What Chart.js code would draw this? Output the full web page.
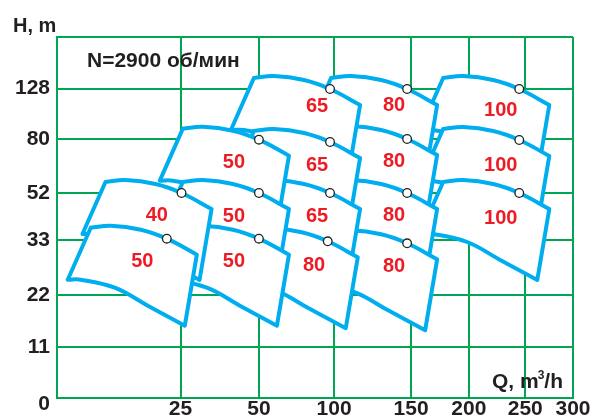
<!DOCTYPE html>
<html>
<head>
<meta charset="utf-8">
<script src="https://cdn.jsdelivr.net/npm/chart.js@4.4.1/dist/chart.umd.min.js"></script>
<style>
  html, body { margin: 0; padding: 0; background: #fff; }
  canvas { display: block; }
</style>
</head>
<body>
<canvas id="myChart" width="602" height="418"></canvas>
<script>
// valori delle tacche sugli assi (la scala non è uniforme)
var tacche_q = [0, 25, 50, 100, 150, 200, 250, 300];
var tacche_h = [0, 11, 22, 33, 52, 80, 128, 200];

// punti di lavoro nominali [Q, H]
var punti = [
    [22.22, 33.53], [50, 33.53], [95.8, 32.74], [147.4, 32.34],
    [25.32, 52], [50, 52], [97.33, 52], [147.4, 52], [244.67, 52],
    [50, 79.64], [97.33, 78.44], [147.4, 80], [244.67, 79.48],
    [97.33, 127.71], [147.4, 127.71], [244.67, 127.71]
];

// campi di lavoro delle pompe [Q, H], contorno: curva alta, lato destro, curva bassa
var campo_50_33a = [[6.83, 37.97], [10.88, 38.78], [16.96, 37.16], [22.22, 33.53], [30.2, 30.06], [26.37, 15.51], [18.37, 19.74], [11.69, 23.46], [4.8, 25.06], [2.17, 25.06]];
var campo_50_33b = [[25.73, 37.97], [32.12, 38.78], [41.7, 37.16], [50, 33.53], [70, 30.06], [62, 15.51], [43.93, 19.74], [33.4, 23.46], [23.44, 25.06], [20.81, 25.06]];
var campo_80_33a = [[47.67, 36.92], [58.47, 37.73], [78.47, 36.11], [95.8, 32.74], [115.39, 29.54], [107.6, 14.96], [83.13, 19.19], [61.13, 22.94], [44.48, 24.54], [40.33, 24.54]];
var campo_80_33b = [[98, 36.11], [111.04, 36.92], [130.52, 35.3], [147.4, 32.34], [172.53, 29.14], [162.13, 14.53], [135.06, 18.76], [113.64, 22.54], [91.33, 24.14], [82.67, 24.14]];

var campo_40_52 = [[9.81, 57.7], [13.86, 58.74], [19.93, 56.67], [25.32, 52], [34.9, 45.53], [31.07, 25], [21.35, 29], [14.67, 32.6], [7.78, 35.43], [5.15, 35.43]];
var campo_50_52 = [[25.73, 57.7], [32.12, 58.74], [41.7, 56.67], [50, 52], [70, 45.53], [62, 25], [43.93, 29], [33.4, 32.6], [23.44, 35.43], [20.81, 35.43]];
var campo_65_52 = [[48.4, 57.7], [60, 58.74], [80, 56.67], [97.33, 52], [116.88, 45.53], [109.09, 25], [84.67, 29], [62.67, 32.6], [45.21, 35.43], [41.06, 35.43]];
var campo_80_52 = [[98, 57.7], [111.04, 58.74], [130.52, 56.67], [147.4, 52], [172.53, 45.53], [162.13, 25], [135.06, 29], [113.64, 32.6], [91.33, 35.43], [82.67, 35.43]];
var campo_100_52 = [[177.73, 57.7], [195.06, 58.74], [221.58, 56.67], [244.67, 52], [275.16, 45.53], [262.58, 25], [227.8, 29], [198.53, 32.6], [169.06, 35.43], [157.8, 35.43]];

var campo_50_80 = [[25.73, 89.83], [32.12, 91.74], [41.7, 87.92], [50, 79.64], [70, 71.34], [62, 38.38], [43.93, 46.46], [33.4, 54.23], [23.44, 58.38], [20.81, 58.38]];
var campo_65_80 = [[48.4, 87.63], [60, 89.54], [80, 85.73], [97.33, 78.44], [116.88, 70.15], [109.09, 37.45], [84.67, 45.53], [62.67, 53.04], [45.21, 57.19], [41.06, 57.19]];
var campo_80_80 = [[98, 90.5], [111.04, 92.41], [130.52, 88.59], [147.4, 80], [172.53, 71.7], [162.13, 38.66], [135.06, 46.74], [113.64, 54.59], [91.33, 58.74], [82.67, 58.74]];
var campo_100_80 = [[177.73, 89.54], [195.06, 91.45], [221.58, 87.63], [244.67, 79.48], [275.16, 71.19], [262.58, 38.26], [227.8, 46.34], [198.53, 54.07], [169.06, 58.22], [157.8, 58.22]];

var campo_65_128 = [[48.4, 142.9], [60, 145.69], [80, 140.12], [97.33, 127.71], [116.88, 112.45], [109.09, 60.81], [84.67, 71.19], [62.67, 80.95], [45.21, 88.59], [41.06, 88.59]];
var campo_80_128 = [[98, 142.9], [111.04, 145.69], [130.52, 140.12], [147.4, 127.71], [172.53, 112.45], [162.13, 60.81], [135.06, 71.19], [113.64, 80.95], [91.33, 88.59], [82.67, 88.59]];
var campo_100_128 = [[177.73, 142.9], [195.06, 145.69], [221.58, 140.12], [244.67, 127.71], [275.16, 112.45], [262.58, 60.81], [227.8, 71.19], [198.53, 80.95], [169.06, 88.59], [157.8, 88.59]];

// scritte rosse dentro i campi [testo, Q, H]
var etichette = [
    ['65', 88.67, 111.68], ['80', 138.96, 113.21], ['100', 228.24, 108.34],
    ['50', 42.02, 68.23], ['65', 88.67, 66.93], ['80', 138.96, 68.7], ['100', 228.24, 66.52],
    ['40', 20.2, 43.43], ['50', 42.02, 42.78], ['65', 88.67, 42.78], ['80', 138.96, 43.43], ['100', 228.24, 42.1],
    ['50', 17.26, 28.84], ['50', 42.02, 28.9], ['80', 86.67, 28.16], ['80', 138.96, 27.84]
];

// l'ordine conta: il primo della lista viene disegnato sopra gli altri
// (colonna più a sinistra sopra, nella stessa colonna il campo più basso sopra)
var campi = [
    campo_50_33a, campo_40_52,
    campo_50_33b, campo_50_52, campo_50_80,
    campo_80_33a,
    campo_65_52, campo_65_80, campo_65_128,
    campo_80_33b, campo_80_52, campo_80_80, campo_80_128,
    campo_100_52, campo_100_80, campo_100_128
];

// scala lineare a tratti: ogni tacca ha la sua posizione sull'asse
class ScalaSpezzata extends Chart.LinearScale {
    buildTicks() {
        return this.options.valori.map(function (v) { return { value: v }; });
    }
    getPixelForValue(value) {
        var v = this.options.valori, p = this.options.posizioni;
        var i = 0;
        while (i < v.length - 2 && value > v[i + 1]) i++;
        var f = p[i] + (value - v[i]) / (v[i + 1] - v[i]) * (p[i + 1] - p[i]);
        return this.getPixelForDecimal(f);
    }
    getValueForPixel(pixel) {
        var v = this.options.valori, p = this.options.posizioni;
        var f = this.getDecimalForPixel(pixel);
        var i = 0;
        while (i < p.length - 2 && f > p[i + 1]) i++;
        return v[i] + (f - p[i]) / (p[i + 1] - p[i]) * (v[i + 1] - v[i]);
    }
}
ScalaSpezzata.id = 'spezzata';
ScalaSpezzata.defaults = {};
Chart.register(ScalaSpezzata);

var FONT = '"Liberation Sans", Arial, sans-serif';
var VERDE = '#00a651';
var NERO = '#231f20';

// indici degli spigoli del contorno: vengono ripetuti così la curva
// resta morbida sui lati lunghi e lo spigolo rimane vivo
var spigoli = [0, 4, 5, 9];

function chiudi(campo) {
    var pts = [];
    for (var k = 0; k < campo.length; k++) {
        var p = { x: campo[k][0], y: campo[k][1] };
        pts.push(p);
        if (spigoli.indexOf(k) >= 0) pts.push({ x: p.x, y: p.y });
    }
    pts.push({ x: campo[0][0], y: campo[0][1] });
    return pts;
}

var datasets = [{
    data: punti.map(function (p) { return { x: p[0], y: p[1] }; }),
    showLine: false,
    pointRadius: 4.3,
    pointBackgroundColor: '#ffffff',
    pointBorderColor: '#222222',
    pointBorderWidth: 1.3
}];
for (var i = 0; i < campi.length; i++) {
    datasets.push({
        data: chiudi(campi[i]),
        borderColor: '#00aeef',
        borderWidth: 4,
        borderJoinStyle: 'round',
        borderCapStyle: 'round',
        backgroundColor: '#ffffff',
        fill: 'shape',
        pointRadius: 0,
        tension: 0.4
    });
}

// scritte: titoli degli assi, giri al minuto, numeri rossi
var scritte = {
    id: 'scritte',
    afterDraw: function (chart) {
        var ctx = chart.ctx;
        var sx = chart.scales.x, sy = chart.scales.y;
        ctx.save();
        ctx.fillStyle = '#ed1c24';
        ctx.font = 'bold 20px ' + FONT;
        ctx.textAlign = 'center';
        ctx.textBaseline = 'middle';
        etichette.forEach(function (e) {
            ctx.fillText(e[0], sx.getPixelForValue(e[1]), sy.getPixelForValue(e[2]) + 1);
        });

        ctx.fillStyle = NERO;
        // lo zero dell'asse H sta un po' sotto la linea, come nell'originale
        ctx.font = 'bold 21px ' + FONT;
        ctx.textAlign = 'right';
        ctx.fillText('0', 50, sy.getPixelForValue(0) + 6);

        ctx.textBaseline = 'alphabetic';
        ctx.textAlign = 'left';
        ctx.font = 'bold 20px ' + FONT;
        ctx.fillText('H, m', 13, 32);
        ctx.font = 'bold 21px ' + FONT;
        ctx.fillText('N=2900 об/мин', 87, 66.5);

        // Q, m³/h con l'esponente piccolo
        var destra = 563, base = 388;
        ctx.textAlign = 'right';
        ctx.fillText('/h', destra, base);
        var w1 = ctx.measureText('/h').width;
        ctx.font = 'bold 12px ' + FONT;
        ctx.fillText('3', destra - w1, base - 9);
        var w2 = ctx.measureText('3').width;
        ctx.font = 'bold 21px ' + FONT;
        ctx.fillText('Q, m', destra - w1 - w2 + 1, base);
        ctx.restore();
    }
};

var ctx = document.getElementById('myChart').getContext('2d');

var myChart = new Chart(ctx, {
    type: 'line',
    data: { datasets: datasets },
    options: {
        responsive: false,
        animation: false,
        events: [],
        layout: { padding: { top: 37, right: 29, left: 0, bottom: 0 } },
        plugins: {
            legend: { display: false },
            tooltip: { enabled: false }
        },
        scales: {
            x: {
                type: 'spezzata',
                min: 0,
                max: 300,
                valori: tacche_q,
                posizioni: [0, 0.2394, 0.3913, 0.5369, 0.6863, 0.7982, 0.9075, 1],
                afterFit: function (scale) { scale.height = 20; },
                grid: { color: VERDE, lineWidth: 2, drawTicks: false },
                border: { color: VERDE, width: 2 },
                ticks: {
                    autoSkip: false,
                    maxRotation: 0,
                    padding: 1,
                    color: NERO,
                    font: { family: FONT, size: 21, weight: 'bold', lineHeight: 1 },
                    callback: function (v) { return v === 0 ? '' : String(v); }
                }
            },
            y: {
                type: 'spezzata',
                min: 0,
                max: 200,
                valori: tacche_h,
                posizioni: [0, 0.1413, 0.2853, 0.4377, 0.5679, 0.7175, 0.8568, 1],
                afterFit: function (scale) { scale.width = 57; },
                grid: { color: VERDE, lineWidth: 2, drawTicks: false },
                border: { color: VERDE, width: 2 },
                ticks: {
                    autoSkip: false,
                    padding: 7,
                    color: NERO,
                    font: { family: FONT, size: 21, weight: 'bold', lineHeight: 1 },
                    callback: function (v) { return (v === 200 || v === 0) ? '' : String(v); }
                }
            }
        }
    },
    plugins: [scritte]
});
</script>
</body>
</html>
